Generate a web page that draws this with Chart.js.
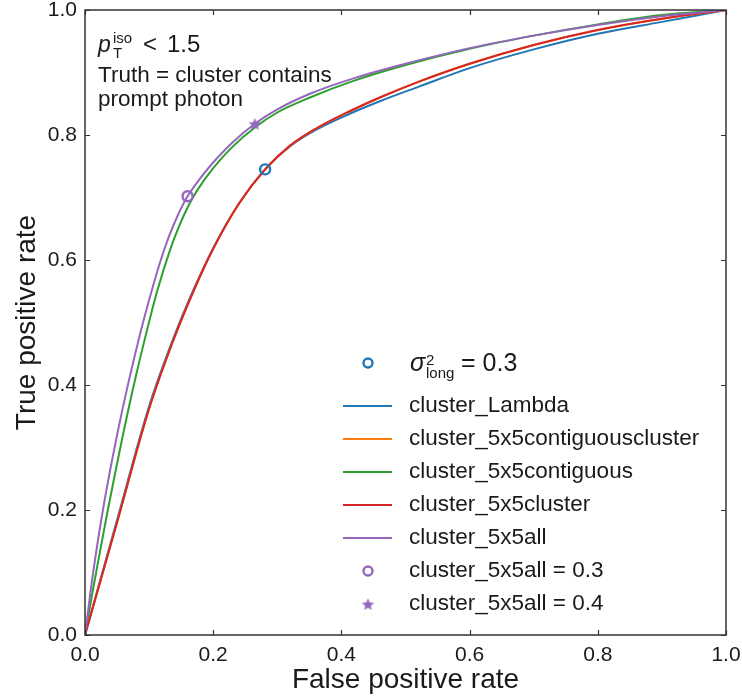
<!DOCTYPE html>
<html>
<head>
<meta charset="utf-8">
<script src="https://cdn.jsdelivr.net/npm/chart.js@4.4.1/dist/chart.umd.min.js"></script>
<style>
  html, body { margin: 0; padding: 0; background: #fff; }
</style>
</head>
<body>
<canvas id="roc" width="742" height="700"></canvas>
<script>
const FONT = '"Liberation Sans", Arial, Helvetica, sans-serif';
const TEXT = '#1a1a1a';

// axis ticks
const tickValues = [0, 0.2, 0.4, 0.6, 0.8, 1.0];
const tickLabels = ['0.0', '0.2', '0.4', '0.6', '0.8', '1.0'];

// ROC curves (false positive rate -> true positive rate)
const seriesNames = ['cluster_Lambda', 'cluster_5x5contiguouscluster', 'cluster_5x5contiguous', 'cluster_5x5cluster', 'cluster_5x5all'];
const seriesColors = ['#1f77b4', '#ff7f0e', '#2ca02c', '#d62728', '#9467bd'];

const fprLambda = [0, 0.05, 0.1, 0.138, 0.17, 0.2, 0.24, 0.281, 0.32, 0.36, 0.413, 0.46, 0.52, 0.6, 0.7, 0.8, 0.9, 1.0];
const tprLambda = [0, 0.184, 0.366, 0.475, 0.554, 0.619, 0.690, 0.745, 0.782, 0.808, 0.834, 0.854, 0.877, 0.907, 0.937, 0.962, 0.981, 1.0];

const fprContigCluster = [0, 0.05, 0.1, 0.138, 0.17, 0.2, 0.24, 0.281, 0.32, 0.36, 0.413, 0.46, 0.52, 0.6, 0.7, 0.8, 0.9, 1.0];
const tprContigCluster = [0, 0.18, 0.362, 0.472, 0.552, 0.618, 0.690, 0.745, 0.783, 0.810, 0.838, 0.860, 0.885, 0.914, 0.944, 0.968, 0.986, 1.0];

const fprContig = [0, 0.012, 0.024, 0.036, 0.048, 0.06, 0.078, 0.099, 0.112, 0.133, 0.148, 0.162, 0.176, 0.2, 0.23, 0.265, 0.30, 0.351, 0.42, 0.5, 0.6, 0.7, 0.8, 0.9, 1.0];
const tprContig = [0, 0.07, 0.137, 0.202, 0.264, 0.324, 0.408, 0.497, 0.548, 0.617, 0.657, 0.688, 0.713, 0.747, 0.781, 0.812, 0.836, 0.860, 0.887, 0.912, 0.938, 0.959, 0.977, 0.992, 1.0];

const fprCluster = [0, 0.05, 0.1, 0.138, 0.17, 0.2, 0.24, 0.281, 0.32, 0.36, 0.413, 0.46, 0.52, 0.6, 0.7, 0.8, 0.9, 1.0];
const tprCluster = [0, 0.18, 0.362, 0.472, 0.552, 0.618, 0.690, 0.745, 0.783, 0.810, 0.838, 0.860, 0.885, 0.914, 0.944, 0.968, 0.986, 1.0];

const fprAll = [0, 0.01, 0.02, 0.03, 0.04, 0.052, 0.068, 0.086, 0.1, 0.117, 0.13, 0.145, 0.16, 0.18, 0.2, 0.23, 0.265, 0.30, 0.351, 0.42, 0.5, 0.6, 0.7, 0.8, 0.9, 1.0];
const tprAll = [0, 0.08, 0.15, 0.212, 0.268, 0.33, 0.405, 0.482, 0.536, 0.596, 0.635, 0.672, 0.702, 0.731, 0.756, 0.788, 0.818, 0.841, 0.866, 0.891, 0.914, 0.939, 0.959, 0.976, 0.990, 1.0];

// working points
const sigmaFpr = [0.281], sigmaTpr = [0.745];
const all03Fpr = [0.160], all03Tpr = [0.702];
const all04Fpr = [0.265], all04Tpr = [0.818];

const curveFpr = [fprLambda, fprContigCluster, fprContig, fprCluster, fprAll];
const curveTpr = [tprLambda, tprContigCluster, tprContig, tprCluster, tprAll];

function pts(xs, ys) { return xs.map((x, i) => ({ x: x, y: ys[i] })); }

function makeStar(color, r) {
  const s = Math.ceil(r * 2 + 2);
  const c = document.createElement('canvas');
  c.width = s; c.height = s;
  const g = c.getContext('2d');
  g.beginPath();
  for (let k = 0; k < 10; k++) {
    const rad = k % 2 ? r * 0.46 : r;
    const a = -Math.PI / 2 + k * Math.PI / 5;
    g.lineTo(s / 2 + rad * Math.cos(a), s / 2 + 0.8 + rad * Math.sin(a));
  }
  g.closePath();
  g.fillStyle = color;
  g.fill();
  return c;
}
const starImg = makeStar('#9467bd', 6.5);

const datasets = seriesNames.map((name, i) => ({
  label: name,
  data: pts(curveFpr[i], curveTpr[i]),
  showLine: true,
  borderColor: seriesColors[i],
  backgroundColor: seriesColors[i],
  borderWidth: 2,
  pointRadius: 0,
  cubicInterpolationMode: 'monotone',
  order: 10 - i
}));
datasets.push({ label: 'sigma', data: pts(sigmaFpr, sigmaTpr), pointStyle: 'circle', pointRadius: 5,
  borderColor: '#1f77b4', backgroundColor: 'rgba(0,0,0,0)', borderWidth: 2.4, order: 0 });
datasets.push({ label: 'cluster_5x5all = 0.3', data: pts(all03Fpr, all03Tpr), pointStyle: 'circle', pointRadius: 5,
  borderColor: '#9467bd', backgroundColor: 'rgba(0,0,0,0)', borderWidth: 2.4, order: 0 });
datasets.push({ label: 'cluster_5x5all = 0.4', data: pts(all04Fpr, all04Tpr), pointStyle: starImg, pointRadius: 7, order: 0 });

function txt(ctx, s, x, y, size, italic, align, base) {
  ctx.font = (italic ? 'italic ' : '') + size + 'px ' + FONT;
  ctx.textAlign = align || 'left';
  ctx.textBaseline = base || 'alphabetic';
  ctx.fillStyle = TEXT;
  ctx.fillText(s, x, y);
}

const decor = {
  id: 'decor',
  afterDraw(chart) {
    const ctx = chart.ctx, ca = chart.chartArea;
    const xs = chart.scales.x, ys = chart.scales.y;
    ctx.save();
    // frame and inward ticks on all sides
    ctx.strokeStyle = '#333';
    ctx.lineWidth = 1.5;
    ctx.strokeRect(ca.left, ca.top, ca.right - ca.left, ca.bottom - ca.top);
    ctx.lineWidth = 1.2;
    ctx.beginPath();
    tickValues.forEach(v => {
      const px = Math.round(xs.getPixelForValue(v)) + 0.5;
      ctx.moveTo(px, ca.bottom); ctx.lineTo(px, ca.bottom - 5);
      ctx.moveTo(px, ca.top); ctx.lineTo(px, ca.top + 5);
      const py = Math.round(ys.getPixelForValue(v)) + 0.5;
      ctx.moveTo(ca.left, py); ctx.lineTo(ca.left + 5, py);
      ctx.moveTo(ca.right, py); ctx.lineTo(ca.right - 5, py);
    });
    ctx.stroke();

    // annotation top-left
    const ax = ca.left + 13;
    txt(ctx, 'p', ax, ca.top + 42, 23, true);
    txt(ctx, 'T', ax + 15, ca.top + 48, 15, false);
    txt(ctx, 'iso', ax + 15, ca.top + 33, 15, false);
    txt(ctx, '<', ax + 45, ca.top + 42, 24, false);
    txt(ctx, '1.5', ax + 69, ca.top + 42, 24, false);
    txt(ctx, 'Truth = cluster contains', ax, ca.top + 72, 22.5, false);
    txt(ctx, 'prompt photon', ax, ca.top + 96, 22.5, false);

    // legend
    const lx = ca.left + 258, tx = lx + 66, mx = lx + 25;
    const rowY = k => k === 0 ? ca.top + 353 : ca.top + 396 + (k - 1) * 33;
    // sigma row
    ctx.strokeStyle = '#1f77b4'; ctx.lineWidth = 2.4;
    ctx.beginPath(); ctx.arc(mx, rowY(0), 4.5, 0, Math.PI * 2); ctx.stroke();
    const sb = rowY(0) + 8;
    txt(ctx, '\u03c3', tx + 1, sb, 25, true);
    txt(ctx, '2', tx + 17, sb - 6, 15, false);
    txt(ctx, 'long', tx + 17, sb + 7, 15, false);
    txt(ctx, '= 0.3', tx + 52, sb, 25, false);
    // line rows
    seriesNames.forEach((name, i) => {
      const y = rowY(i + 1);
      ctx.strokeStyle = seriesColors[i]; ctx.lineWidth = 2;
      ctx.beginPath(); ctx.moveTo(lx, y); ctx.lineTo(lx + 49, y); ctx.stroke();
      txt(ctx, name, tx, y, 22.5, false, 'left', 'middle');
    });
    // marker rows
    let y = rowY(6);
    ctx.strokeStyle = '#9467bd'; ctx.lineWidth = 2.4;
    ctx.beginPath(); ctx.arc(mx, y, 4.5, 0, Math.PI * 2); ctx.stroke();
    txt(ctx, 'cluster_5x5all = 0.3', tx, y, 22.5, false, 'left', 'middle');
    y = rowY(7);
    ctx.drawImage(starImg, mx - starImg.width / 2, y - starImg.height / 2);
    txt(ctx, 'cluster_5x5all = 0.4', tx, y, 22.5, false, 'left', 'middle');
    ctx.restore();
  }
};

function axis(title, pos, pad) {
  return {
    type: 'linear',
    position: pos,
    min: 0,
    max: 1,
    grid: { display: false, drawTicks: false },
    border: { display: false },
    afterBuildTicks: s => { s.ticks = tickValues.map(v => ({ value: v })); },
    ticks: {
      autoSkip: false,
      maxRotation: 0,
      padding: 8,
      color: TEXT,
      font: { family: FONT, size: 21 },
      callback: (v, i) => tickLabels[i]
    },
    title: {
      display: true,
      text: title,
      color: TEXT,
      font: { family: FONT, size: 28 },
      padding: pad
    }
  };
}

// fixed axis sizes, no extra room for overhanging end labels
const xAxis = axis('False positive rate', 'bottom', { top: 0, bottom: 3 });
xAxis.afterFit = s => { s.height = 65; s.paddingLeft = 0; s.paddingRight = 0; };
const yAxis = axis('True positive rate', 'left', { top: 10, bottom: 0 });
yAxis.afterFit = s => { s.width = 85; s.paddingTop = 0; s.paddingBottom = 0; };

new Chart(document.getElementById('roc'), {
  type: 'scatter',
  data: { datasets: datasets },
  options: {
    responsive: false,
    animation: false,
    layout: { autoPadding: false, padding: { top: 10, right: 16, left: 0, bottom: 0 } },
    plugins: { legend: { display: false }, tooltip: { enabled: false } },
    scales: { x: xAxis, y: yAxis }
  },
  plugins: [decor]
});
</script>
</body>
</html>
